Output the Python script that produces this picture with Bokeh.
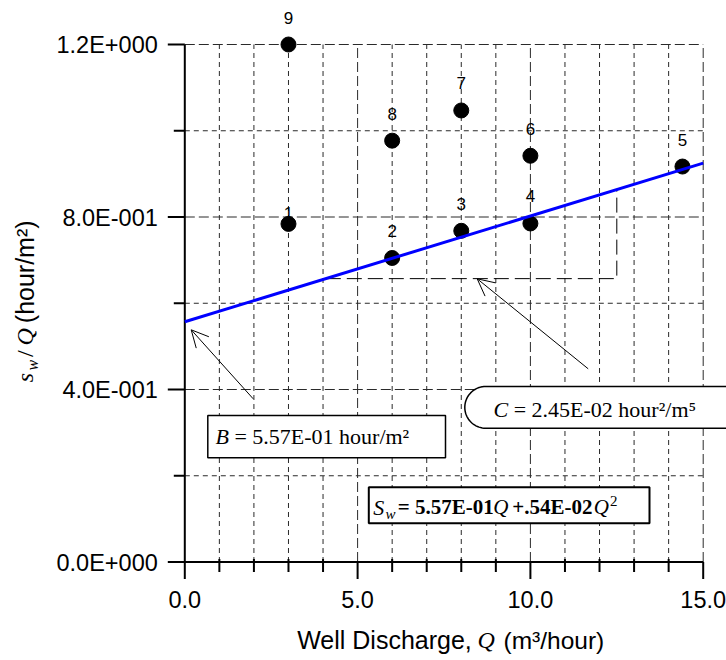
import math
import numpy as np
from bokeh.plotting import figure
from bokeh.models import (Range1d, Label, LabelSet, ColumnDataSource, Arrow, OpenHead)
from bokeh.core.properties import value
from bokeh.embed import file_html
from bokeh.resources import INLINE

# ---------------- data ----------------
well_id = ["1", "2", "3", "4", "5", "6", "7", "8", "9"]
discharge = [3.0, 6.0, 8.0, 10.0, 14.4, 10.0, 8.0, 6.0, 3.0]
sw_over_q = [0.784, 0.705, 0.768, 0.785, 0.917, 0.942, 1.047, 0.977, 1.200]

fit_x = [0.0, 15.0]
fit_y = [0.557, 0.925]
slope_tri_x = [4.08, 12.5]

x_major = [0.0, 5.0, 10.0, 15.0]
x_minor = [1, 2, 3, 4, 6, 7, 8, 9, 11, 12, 13, 14]
x_tick_labels = ["0.0", "5.0", "10.0", "15.0"]
y_major = [0.0, 0.4, 0.8, 1.2]
y_minor = [0.2, 0.6, 1.0]
y_tick_labels = ["0.0E+000", "4.0E-001", "8.0E-001", "1.2E+000"]

# ---------------- layout (pixel geometry of the plotting area) ----------------
W, H = 726, 660
X0, PX_X = 184.3, 34.56      # pixel of x=0, pixels per x unit
Y0, PX_Y = 561.5, 431.25     # pixel of y=0, pixels per y unit


def dx(px):
    return (px - X0) / PX_X


def dy(py):
    return (Y0 - py) / PX_Y


def lx(n):
    return n / PX_X


def ly(n):
    return n / PX_Y


p = figure(width=W, height=H, output_backend="svg", toolbar_location=None,
           x_range=Range1d(dx(0), dx(W)), y_range=Range1d(dy(H), dy(0)),
           x_axis_location=None, y_axis_location=None,
           min_border=0, min_border_left=0, min_border_right=0,
           min_border_top=0, min_border_bottom=0)
p.outline_line_color = None
p.grid.visible = False
p.background_fill_color = "white"
p.border_fill_color = "white"

xlo, xhi = x_major[0], x_major[-1]
ylo, yhi = y_major[0], y_major[-1]

# ---------------- grid (dashed) ----------------
GRID_COL = "#2a2a2a"
p.segment(x0=x_minor, y0=[ylo] * len(x_minor), x1=x_minor, y1=[yhi] * len(x_minor),
          line_color=GRID_COL, line_width=1, line_dash="5 4")
p.segment(x0=x_major[1:], y0=[ylo] * 3, x1=x_major[1:], y1=[yhi] * 3,
          line_color=GRID_COL, line_width=1, line_dash="10 4")
p.segment(x0=[xlo] * len(y_minor), y0=y_minor, x1=[xhi] * len(y_minor), y1=y_minor,
          line_color=GRID_COL, line_width=1, line_dash="5 4")
p.segment(x0=[xlo] * 3, y0=y_major[1:], x1=[xhi] * 3, y1=y_major[1:],
          line_color=GRID_COL, line_width=1, line_dash="10 4")

# ---------------- axes (lines, ticks, tick labels) ----------------
p.segment(x0=[xlo], y0=[ylo], x1=[xhi], y1=[ylo], line_color="black", line_width=2)
p.segment(x0=[xlo], y0=[ylo], x1=[xlo], y1=[yhi], line_color="black", line_width=2)
p.segment(x0=x_major, y0=[ylo] * 4, x1=x_major, y1=[ylo - ly(17)] * 4,
          line_color="black", line_width=2)
p.segment(x0=x_minor, y0=[ylo + ly(3)] * len(x_minor), x1=x_minor,
          y1=[ylo - ly(10)] * len(x_minor), line_color="black", line_width=2)
p.segment(x0=[xlo - lx(17)] * 4, y0=y_major, x1=[xlo] * 4, y1=y_major,
          line_color="black", line_width=2)
p.segment(x0=[xlo - lx(11)] * len(y_minor), y0=y_minor, x1=[xlo] * len(y_minor),
          y1=y_minor, line_color="black", line_width=2)
p.text(x=[xlo - lx(27)] * 4, y=[v - ly(0.5) for v in y_major], text=y_tick_labels,
       text_align="right", text_baseline="middle",
       text_font=value("Liberation Sans"), text_font_size=value("23.5px"),
       text_color="black")
p.text(x=x_major, y=[ylo - ly(37.5)] * 4, text=x_tick_labels,
       text_align="center", text_baseline="middle",
       text_font=value("Liberation Sans"), text_font_size=value("23.5px"),
       text_color="black")

# ---------------- slope triangle ----------------
tri_y = list(np.interp(slope_tri_x, fit_x, fit_y))
p.line(x=[slope_tri_x[0], slope_tri_x[1], slope_tri_x[1]],
       y=[tri_y[0], tri_y[0], tri_y[1]],
       line_color="black", line_width=1, line_dash="15 6")

# ---------------- boxes ----------------
p.quad(left=[dx(207.3)], right=[dx(445)], top=[dy(415)], bottom=[dy(457.3)],
       fill_color="white", line_color="black", line_width=1.5)
p.quad(left=[dx(368.3)], right=[dx(649)], top=[dy(486.7)], bottom=[dy(522.7)],
       fill_color="white", line_color="black", line_width=2)
r = 20.85
top, bot = 386.0, 427.7
cx, cy = 464.3 + r, (top + bot) / 2
pts = [(W + 40, top), (cx, top)]
for t in np.linspace(0, math.pi, 40):
    pts.append((cx - r * math.sin(t), cy - r * math.cos(t)))
pts += [(cx, bot), (W + 40, bot)]
p.patch(x=[dx(a) for a, b in pts], y=[dy(b) for a, b in pts],
        fill_color="white", line_color="black", line_width=1.5)

# ---------------- points, fit line ----------------
src = ColumnDataSource(dict(x=discharge, y=sw_over_q, id=well_id,
                            off=[11 if w == "1" else 27 for w in well_id]))
p.scatter(x="x", y="y", source=src, size=15, fill_color="black", line_color="black")
p.line(x=fit_x, y=fit_y, line_color="#0000ff", line_width=3)

p.add_layout(LabelSet(x="x", y="y", text="id", source=src, y_offset="off",
                      text_align="center", text_baseline="middle",
                      text_font=value("Liberation Sans"), text_font_size=value("17px"),
                      text_color="black"))

# ---------------- arrows ----------------
p.add_layout(Arrow(end=OpenHead(size=17, line_width=1, line_color="black"),
                   x_start=dx(252.7), y_start=dy(398.3), x_end=dx(190.7), y_end=dy(329.3),
                   line_width=1, line_color="black"))
p.add_layout(Arrow(end=OpenHead(size=17, line_width=1, line_color="black"),
                   x_start=dx(587.7), y_start=dy(368.3), x_end=dx(476.7), y_end=dy(278.3),
                   line_width=1, line_color="black"))


def lab(px, py, text, font="Liberation Serif", size=22, style="normal", angle=0.0,
        align="left"):
    p.add_layout(Label(x=dx(px), y=dy(py), text=text, text_font=font,
                       text_font_size=f"{size}px", text_font_style=style,
                       text_align=align, text_baseline="middle", angle=angle,
                       text_color="black"))


NB = "\u00a0"
# B text
lab(228.4, 436.0, "B", style="italic", align="right")
lab(228.4, 436.0, NB + "= 5.57E-01 hour/m²")
# C text
lab(507.7, 408.5, "C", style="italic", align="right")
lab(507.7, 408.5, NB + "= 2.45E-02 hour²/m⁵")
# equation text
lab(372.7, 506.5, "S", size=22, style="italic")
lab(385.0, 513.4, "w", size=15, style="italic")
lab(397.3, 506.9, "= 5.57E-01", size=21, style="bold")
lab(492.7, 506.9, "Q", size=21, style="italic")
lab(511.7, 506.9, "+.54E-02", size=21, style="bold")
lab(593.3, 506.9, "Q", size=21, style="italic")
lab(609.5, 500.9, "2", size=15)

# x-axis title
lab(296.7, 639.7, "Well Discharge,", font="Liberation Sans", size=25)
lab(477.0, 639.9, "Q", size=24, style="italic")
lab(503.0, 639.7, "(m³/hour)", font="Liberation Sans", size=24.5)

# y-axis title (rotated)
A = math.pi / 2
lab(24.7, 381.7, "s", size=24, style="italic", angle=A)
lab(31.6, 370.0, "w", size=16, style="italic", angle=A)
lab(24.9, 356.5, "/", size=24, angle=A)
lab(24.9, 345.0, "Q", size=24, style="italic", angle=A)
lab(24.5, 322.7, "(hour/m²)", font="Liberation Sans", size=25, angle=A)

open("out.html", "w").write(file_html(p, INLINE))
